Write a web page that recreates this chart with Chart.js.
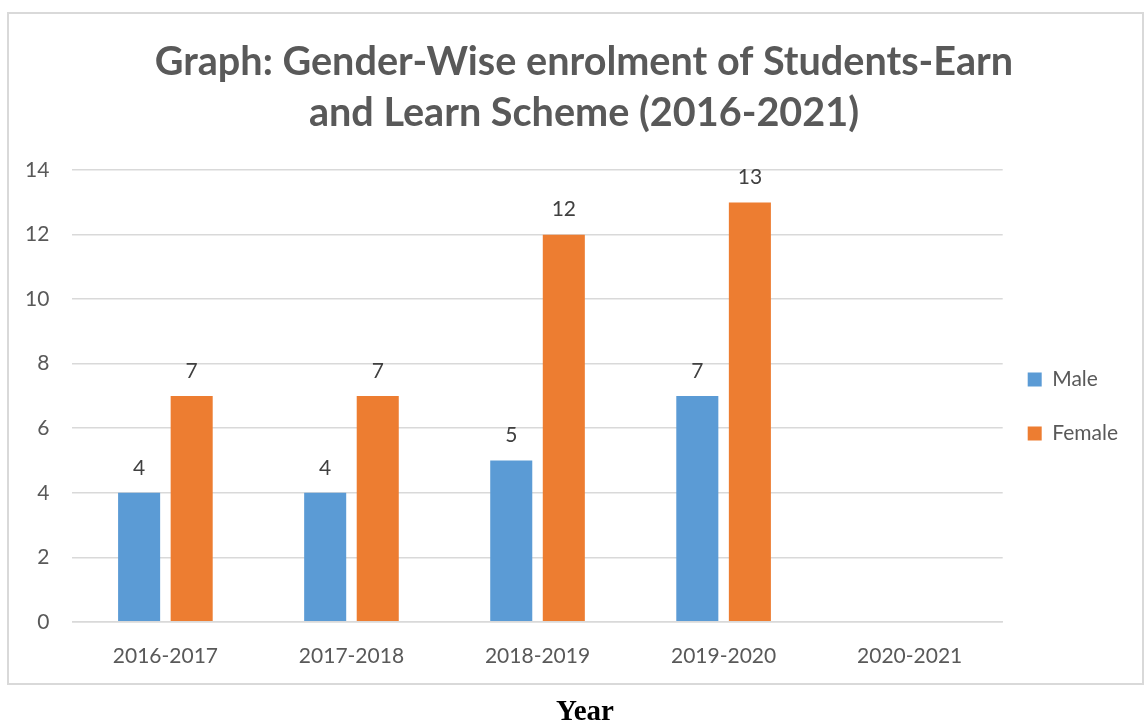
<!DOCTYPE html>
<html>
<head>
<meta charset="utf-8">
<script src="https://cdn.jsdelivr.net/npm/chart.js@4.4.1/dist/chart.umd.min.js"></script>
<style>
    body { margin: 0; background: #fff; }
    #frame {
        position: absolute; left: 7px; top: 12px; width: 1137px; height: 673px;
        border: 2px solid #d9d9d9; box-sizing: border-box;
    }
    #chart { position: absolute; left: 0; top: 0; }
    #xname {
        position: absolute; left: 0; width: 1170px; top: 694px; text-align: center;
        font-family: "Liberation Serif", "Times New Roman", serif; font-weight: bold; font-size: 29px; color: #000;
    }
</style>
</head>
<body>
<div id="frame"></div>
<canvas id="chart" width="1145" height="721"></canvas>
<div id="xname">Year</div>
<script>
const years = ['2016-2017', '2017-2018', '2018-2019', '2019-2020', '2020-2021'];
const male = [4, 4, 5, 7, null];
const female = [7, 7, 12, 13, null];
const yTicks = [0, 2, 4, 6, 8, 10, 12, 14];

const FONT = 'Lato, "Open Sans", sans-serif';

// values written above each bar
const barLabels = {
    id: 'barLabels',
    afterDatasetsDraw(chart) {
        let ctx = chart.ctx;
        ctx.save();
        ctx.font = '21px ' + FONT;
        ctx.fillStyle = '#404040';
        ctx.textAlign = 'center';
        ctx.textBaseline = 'middle';
        chart.data.datasets.forEach((ds, i) => {
            chart.getDatasetMeta(i).data.forEach((bar, j) => {
                if (ds.data[j] == null) return;
                ctx.fillText(ds.data[j], bar.x, bar.y - 25);
            });
        });
        ctx.restore();
    }
};

// nudge the legend and title, like the original
const boxShift = {
    id: 'boxShift',
    afterLayout(chart) {
        let lg = chart.legend;
        lg.left -= 8; lg.right -= 8;
        lg.top += 61; lg.bottom += 61;
        let tt = chart.titleBlock;
        tt.left += 15; tt.right += 15;
    }
};

new Chart(document.getElementById('chart'), {
    type: 'bar',
    data: {
        labels: years,
        datasets: [
            { label: 'Male', data: male, backgroundColor: '#5b9bd5', categoryPercentage: 0.565, barPercentage: 0.8 },
            { label: 'Female', data: female, backgroundColor: '#ed7d31', categoryPercentage: 0.565, barPercentage: 0.8 }
        ]
    },
    options: {
        responsive: false,
        animation: false,
        layout: { padding: { left: 2, right: 9, top: 0, bottom: 30 } },
        plugins: {
            title: {
                display: true,
                text: ['Graph: Gender-Wise enrolment of Students-Earn', 'and Learn Scheme (2016-2021)'],
                color: '#595959',
                font: { family: FONT, size: 39.6, weight: 'bold', lineHeight: 1.29 },
                padding: { top: 37, bottom: 31 }
            },
            legend: {
                position: 'right',
                labels: {
                    color: '#595959',
                    font: { family: FONT, size: 21 },
                    boxWidth: 14, boxHeight: 14,
                    padding: 33
                }
            },
            tooltip: { enabled: false }
        },
        scales: {
            x: {
                grid: { display: false, drawTicks: false },
                border: { color: '#d9d9d9', width: 1.5 },
                ticks: { color: '#595959', font: { family: FONT, size: 21 }, padding: 22 }
            },
            y: {
                min: 0, max: 14,
                afterBuildTicks(axis) { axis.ticks = yTicks.map(v => ({ value: v })); },
                grid: { color: '#d9d9d9', lineWidth: 1.5, drawTicks: false },
                border: { display: false },
                ticks: { color: '#595959', font: { family: FONT, size: 21 }, padding: 23 }
            }
        }
    },
    plugins: [barLabels, boxShift]
});
</script>
</body>
</html>
